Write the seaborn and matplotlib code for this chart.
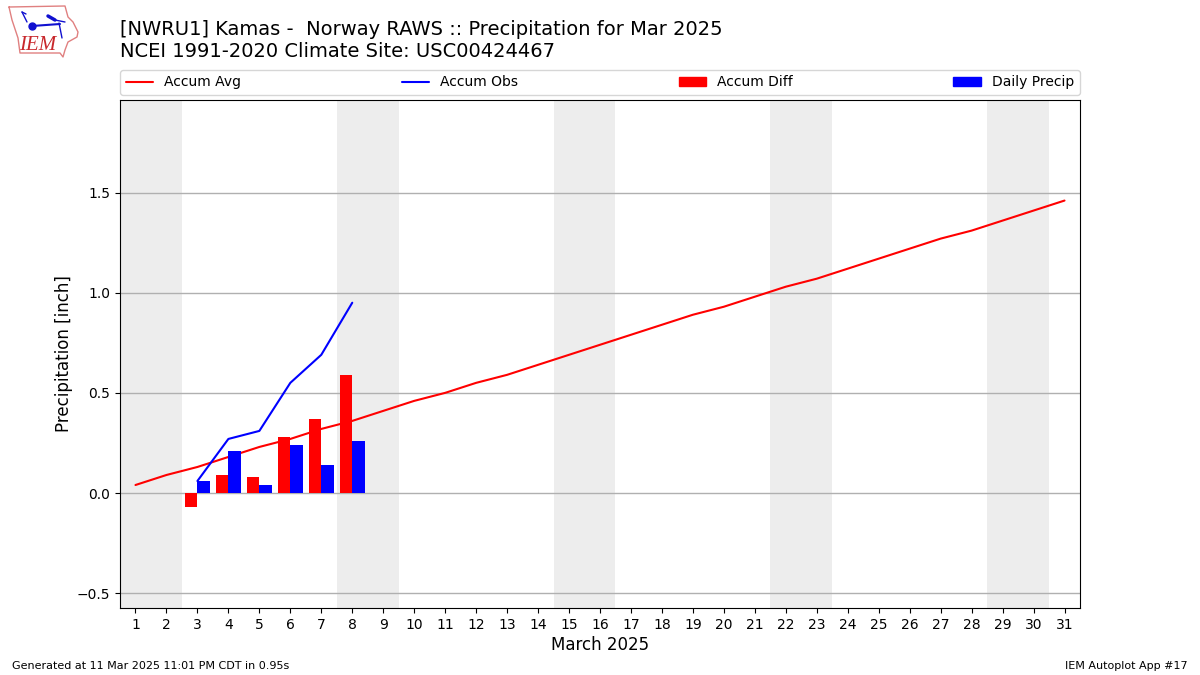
# %%
# Precipitation accumulation chart for NWRU1, Mar 2025

import seaborn as sns
import matplotlib.pyplot as plt
import pandas as pd
from matplotlib.lines import Line2D
from matplotlib.patches import Patch

# %%
# Values

days = list(range(1, 32))
accum_avg = [0.04, 0.09, 0.13, 0.18, 0.23, 0.27, 0.32, 0.36, 0.41, 0.46, 0.50,
             0.55, 0.59, 0.64, 0.69, 0.74, 0.79, 0.84, 0.89, 0.93, 0.98, 1.03,
             1.07, 1.12, 1.17, 1.22, 1.27, 1.31, 1.36, 1.41, 1.46]
obs_days = [3, 4, 5, 6, 7, 8]
accum_obs = [0.06, 0.27, 0.31, 0.55, 0.69, 0.95]
accum_diff = [-0.07, 0.09, 0.08, 0.28, 0.37, 0.59]
daily_precip = [0.06, 0.21, 0.04, 0.24, 0.14, 0.26]
weekends = [(0.5, 2.5), (7.5, 9.5), (14.5, 16.5), (21.5, 23.5), (28.5, 30.5)]
y_ticks = [-0.5, 0.0, 0.5, 1.0, 1.5]

title_text = "[NWRU1] Kamas -  Norway RAWS :: Precipitation for Mar 2025\nNCEI 1991-2020 Climate Site: USC00424467"

# %%
# Long table for the dodged bars

bars = pd.DataFrame({
    "day": obs_days * 2,
    "value": accum_diff + daily_precip,
    "series": ["Accum Diff"] * 6 + ["Daily Precip"] * 6,
})

# %%
sns.set_style("ticks")
plt.rcParams["font.family"] = ["DejaVu Sans"]

W, H = 1200, 675
fig = plt.figure(figsize=(12, 6.75), dpi=100)
ax = fig.add_axes([120 / W, 1 - 608 / H, 960 / W, 508 / H])

for start, end in weekends:
    ax.axvspan(start, end, color="lightgrey", alpha=0.4, lw=0, zorder=0)

ax.set_axisbelow(True)
ax.grid(axis="y", color="#b0b0b0", lw=1)

sns.lineplot(x=days, y=accum_avg, color="red", lw=1.5, ax=ax, zorder=2)
sns.lineplot(x=obs_days, y=accum_obs, color="blue", lw=1.5, ax=ax, zorder=2)
sns.barplot(data=bars, x="day", y="value", hue="series", native_scale=True,
            palette={"Accum Diff": "red", "Daily Precip": "blue"},
            width=0.8, gap=0, saturation=1, legend=False, errorbar=None,
            linewidth=0, ax=ax, zorder=3)

ax.set_xlim(0.5, 31.5)
ax.set_ylim(-0.574, 1.962)
ax.set_xticks(days)
ax.set_yticks(y_ticks)
ax.tick_params(axis="both", labelsize=10, length=3.5, width=0.8, color="black",
               labelcolor="black")
ax.set_xlabel("March 2025", fontsize=12, color="black", labelpad=3)
ax.set_ylabel("Precipitation [inch]", fontsize=12, color="black", labelpad=3)
for spine in ax.spines.values():
    spine.set_visible(True)
    spine.set_color("black")
    spine.set_linewidth(0.8)

# %%
# Legend strip above the axes

handles = [
    Line2D([], [], color="red", lw=1.5),
    Line2D([], [], color="blue", lw=1.5),
    Patch(color="red"),
    Patch(color="blue"),
]
labels = ["Accum Avg", "Accum Obs", "Accum Diff", "Daily Precip"]
ax.legend(handles, labels, ncol=4, mode="expand", loc="lower left",
          bbox_to_anchor=(0, 1.01, 1, 0.05), borderaxespad=0, fontsize=10,
          labelcolor="black")

# %%
# Titles and footer

fig.text(120 / W, 1 - 20 / H, title_text, fontsize=14, va="top", ha="left",
         color="black")
fig.text(12 / W, 1 - 666 / H, "Generated at 11 Mar 2025 11:01 PM CDT in 0.95s",
         fontsize=8, va="center", ha="left", color="black")
fig.text(1188 / W, 1 - 666 / H, "IEM Autoplot App #17", fontsize=8, va="center",
         ha="right", color="black")

# %%
# Rough IEM logo in pixel coordinates

logo = fig.add_axes([0, 1 - 70 / H, 120 / W, 70 / H])
logo.set_xlim(0, 120)
logo.set_ylim(70, 0)
logo.axis("off")
outline_x = [9, 65, 68, 73, 78, 77, 68, 65, 63, 60, 20, 18, 12, 9]
outline_y = [7, 6, 17, 22, 32, 37, 42, 50, 57, 53, 53, 38, 20, 7]
logo.plot(outline_x, outline_y, color="#e08080", lw=1)
logo.plot([32, 60], [26, 24], color="#1010d0", lw=1.5)
logo.plot([32], [26], "o", color="#1010d0", ms=5)
logo.plot([22, 27], [12, 22], color="#1010d0", lw=1)
logo.plot([22, 26], [12, 14], color="#1010d0", lw=1)
logo.plot([48, 55], [16, 20], color="#1010d0", lw=2.5)
logo.plot([55, 65], [20, 22], color="#1010d0", lw=1)
logo.plot([59, 62], [23, 38], color="#1010d0", lw=1)
logo.text(38, 45, "IEM", family="Liberation Serif", style="italic", fontsize=15,
          color="#c8282c", ha="center", va="center")

plt.savefig("out.png", dpi=100, facecolor="white")
